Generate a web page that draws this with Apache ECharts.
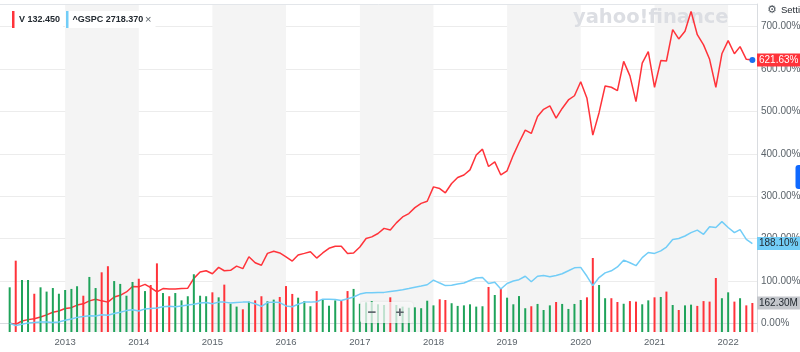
<!DOCTYPE html>
<html>
<head>
<meta charset="UTF-8"/>
<title>V vs ^GSPC</title>
<style>
  * { margin: 0; padding: 0; }
  body { background: #fff; }
  #chart { width: 800px; height: 352px; }
</style>
<script src="https://cdn.jsdelivr.net/npm/echarts@6/dist/echarts.min.js"></script>
</head>
<body>
<div id="chart"></div>
<script>
  // monthly points, first one is April 2012
  const startYear = 2012
  const startMonth = 3
  const yearTicks = [2013, 2014, 2015, 2016, 2017, 2018, 2019, 2020, 2021, 2022]
  const pctTicks = [0, 100, 200, 300, 400, 500, 600, 700]

  // V, % change since start
  const vPct = [
    0, -2.4, 5.5, 8.7, 11, 15, 20, 26, 29, 35, 37, 43, 46, 53, 57, 53, 50, 62, 66, 74,
    87, 86, 92, 84, 74, 82, 81, 81, 82, 83, 106, 121, 124, 117, 132, 124, 125, 135, 129, 157,
    143, 137, 165, 170, 166, 157, 147, 161, 165, 169, 154, 166, 177, 182, 182, 165, 166, 180, 200, 204,
    212, 224, 220, 237, 251, 259, 273, 283, 288, 322, 318, 308, 330, 344, 350, 362, 397, 411, 370, 381,
    350, 360, 397, 426, 456, 448, 488, 505, 513, 484, 507, 527, 537, 570, 531, 444, 497, 560, 557, 549,
    618, 584, 523, 614, 641, 557, 620, 619, 693, 671, 689, 736, 681, 657, 623, 557, 636, 667, 636, 653,
    623, 621.63
  ]

  // ^GSPC, % change since start
  const spPct = [
    0, -5, -2.4, 1, 2, 3, 3, 2, 3, 7, 10, 14, 16, 18, 17, 20, 19, 23, 26, 30,
    32, 29, 34, 35, 36, 39, 40, 39, 41, 43, 45, 48, 49, 46, 50, 50, 48, 49, 50, 50,
    46, 40, 49, 50, 49, 41, 39, 45, 50, 50, 51, 57, 57, 56, 54, 58, 62, 69, 72, 72,
    73, 73, 75, 77, 79, 82, 85, 88, 91, 102, 95, 89, 90, 93, 95, 101, 107, 108, 94, 97,
    81, 94, 100, 103, 111, 98, 111, 113, 110, 113, 117, 124, 131, 132, 111, 89, 108, 119, 124, 133,
    149, 143, 136, 155, 167, 165, 171, 180, 198, 200, 206, 214, 220, 210, 228, 226, 240, 226, 214, 221,
    198, 188.10
  ]

  // V volume, millions
  const volume = [
    250, 399, 291, 291, 214, 250, 226, 246, 214, 235, 241, 256, 203, 308, 246, 334, 368, 285, 269, 203,
    280, 298, 229, 263, 384, 218, 200, 218, 177, 200, 323, 203, 200, 222, 194, 265, 158, 142, 127, 170,
    177, 200, 172, 181, 196, 257, 213, 192, 173, 144, 229, 179, 147, 177, 175, 229, 241, 158, 166, 173,
    155, 151, 194, 151, 142, 136, 138, 133, 175, 149, 183, 179, 161, 146, 149, 155, 142, 144, 252, 207,
    241, 192, 155, 201, 133, 144, 157, 123, 149, 168, 157, 129, 157, 179, 194, 414, 263, 189, 189, 168,
    158, 173, 170, 155, 177, 194, 196, 226, 151, 123, 149, 153, 146, 173, 170, 302, 189, 222, 170, 189,
    149, 162.30
  ]

  // 1 = up month (green bar), 0 = down month (red bar)
  const volumeUp = [
    1, 0, 1, 1, 0, 1, 1, 1, 1, 1, 1, 1, 0, 1, 1, 0, 0, 1, 1, 1,
    1, 0, 1, 0, 0, 1, 0, 1, 1, 1, 1, 1, 1, 0, 1, 0, 1, 1, 0, 1,
    0, 0, 1, 1, 0, 0, 0, 1, 1, 1, 0, 1, 1, 1, 0, 0, 1, 1, 1, 1,
    1, 1, 0, 1, 1, 1, 1, 1, 1, 1, 0, 0, 1, 1, 1, 1, 1, 1, 0, 1,
    0, 1, 1, 1, 1, 0, 1, 1, 1, 0, 1, 1, 1, 1, 0, 0, 1, 1, 0, 0,
    1, 0, 0, 1, 1, 0, 1, 0, 1, 0, 1, 1, 0, 0, 0, 0, 1, 1, 0, 1,
    0, 0
  ]

  const RED = '#ff333a'
  const GREEN = '#1fa35a'
  const BLUE = '#72cdf7'
  const LABEL = '#5b636a'
  const FONT = 'Liberation Sans'

  const months = vPct.map((v, i) => Date.UTC(startYear, startMonth + i, 1))
  const lastDate = months[months.length - 1]
  const yearStarts = yearTicks.map(y => Date.UTC(y, 0, 1))

  // price tag on the right axis, drawn as an invisible mark line
  function endTag(value, text, fg, bg) {
    return {
      silent: true,
      symbol: 'none',
      lineStyle: {color: 'rgba(0,0,0,0)', width: 0},
      label: {
        position: 'end', distance: 0,
        formatter: text,
        color: fg, backgroundColor: bg,
        fontSize: 10, fontFamily: FONT, padding: [1, 2], lineHeight: 11
      },
      data: [{yAxis: value}]
    }
  }

  const chart = echarts.init(document.getElementById('chart'))

  chart.setOption({
    animation: false,
    grid: {left: 0, right: 43, top: 4, bottom: 20, outerBoundsMode: 'none', containLabel: false},
    xAxis: {
      // timestamps on a value axis so the year ticks can be set by hand
      type: 'value',
      min: Date.UTC(2012, 1, 13),
      max: Date.UTC(2022, 4, 24),
      axisLine: {lineStyle: {color: '#d9dce0'}},
      axisTick: {
        show: true, length: 4, lineStyle: {color: '#cfd3d8'},
        customValues: yearStarts
      },
      axisLabel: {
        customValues: yearStarts,
        formatter: v => String(new Date(v).getUTCFullYear()),
        color: LABEL, fontSize: 9.5, fontFamily: FONT, margin: 5
      },
      splitLine: {show: false},
      splitArea: {show: true, areaStyle: {color: ['#f4f4f4', 'rgba(255,255,255,0)']}}
    },
    yAxis: [
      {
        type: 'value',
        position: 'right',
        min: -20.5,
        max: 753.5,
        axisLine: {show: true, lineStyle: {color: '#d9dce0'}},
        axisTick: {show: false, customValues: pctTicks},
        axisLabel: {
          customValues: pctTicks,
          formatter: v => v.toFixed(2) + '%',
          color: LABEL, fontSize: 10, fontFamily: FONT, margin: 4
        },
        splitLine: {show: true, lineStyle: {color: '#ececec'}}
      },
      {
        type: 'value',
        show: false,
        min: 0,
        max: 1835,
        splitLine: {show: false}
      }
    ],
    series: [
      {
        name: 'V',
        type: 'line',
        data: months.map((d, i) => [d, vPct[i]]),
        showSymbol: false,
        lineStyle: {color: RED, width: 1.5},
        itemStyle: {color: RED},
        z: 2,
        markPoint: {
          symbol: 'circle',
          symbolSize: 6,
          itemStyle: {color: '#1b6ff0'},
          label: {show: false},
          data: [{coord: [lastDate, vPct[vPct.length - 1]]}]
        },
        markLine: endTag(vPct[vPct.length - 1], p => p.value.toFixed(2) + '%', '#fff', RED)
      },
      {
        name: 'Volume',
        type: 'bar',
        yAxisIndex: 1,
        barWidth: 2,
        z: 3,
        data: months.map((d, i) => ({
          value: [d, volume[i]],
          itemStyle: {color: volumeUp[i] ? GREEN : RED}
        })),
        markLine: endTag(volume[volume.length - 1], p => p.value.toFixed(2) + 'M', '#232a31', '#c3c6cb')
      },
      {
        name: '^GSPC',
        type: 'line',
        data: months.map((d, i) => [d, spPct[i]]),
        showSymbol: false,
        lineStyle: {color: BLUE, width: 1.5},
        itemStyle: {color: BLUE},
        z: 4,
        markLine: endTag(spPct[spPct.length - 1], p => p.value.toFixed(2) + '%', '#232a31', BLUE)
      }
    ],
    graphic: [
      // top border
      {type: 'line', shape: {x1: 0, y1: 4.5, x2: 757, y2: 4.5}, style: {stroke: '#e3e6ea', lineWidth: 1}, z: 10},
      // watermark
      {
        type: 'text', left: 573, top: 8, z: 1, silent: true,
        style: {text: 'yahoo!finance', fill: '#dcdee3', fontSize: 19.5, fontWeight: 'bold', fontFamily: 'DejaVu Sans'}
      },
      // legend chips
      {type: 'rect', shape: {x: 12, y: 11, width: 51, height: 17}, style: {fill: '#fff'}, z: 20},
      {type: 'rect', shape: {x: 12, y: 11, width: 2.5, height: 17}, style: {fill: RED}, z: 21},
      {
        type: 'text', x: 19, y: 19.5, z: 21,
        style: {text: 'V 132.450', fill: '#232a31', fontSize: 9, fontWeight: 'bold', fontFamily: FONT, verticalAlign: 'middle'}
      },
      {type: 'rect', shape: {x: 65.5, y: 11, width: 90, height: 17}, style: {fill: '#fff'}, z: 20},
      {type: 'rect', shape: {x: 66, y: 11, width: 2.5, height: 17}, style: {fill: BLUE}, z: 21},
      {
        type: 'text', x: 72.5, y: 19.5, z: 21,
        style: {text: '^GSPC 2718.370', fill: '#232a31', fontSize: 9, fontWeight: 'bold', fontFamily: FONT, verticalAlign: 'middle'}
      },
      {
        type: 'text', x: 145, y: 19.5, z: 21,
        style: {text: '×', fill: '#5b636a', fontSize: 11, fontFamily: FONT, verticalAlign: 'middle'}
      },
      // settings
      {
        type: 'text', x: 767, y: 10, z: 21,
        style: {text: '⚙', fill: '#464e56', fontSize: 11, fontFamily: 'DejaVu Sans', verticalAlign: 'middle'}
      },
      {
        type: 'text', x: 781, y: 10, z: 21,
        style: {text: 'Settings', fill: '#232a31', fontSize: 9.5, fontFamily: FONT, verticalAlign: 'middle'}
      },
      // side tab
      {type: 'rect', shape: {x: 795.5, y: 165, width: 12, height: 24, r: 3}, style: {fill: '#0f69ff'}, z: 21},
      // zoom control
      {
        type: 'rect', shape: {x: 360, y: 302, width: 53, height: 21, r: 3},
        style: {fill: 'rgba(255,255,255,0.72)', shadowBlur: 3, shadowColor: 'rgba(0,0,0,0.12)'}, z: 30
      },
      {
        type: 'text', x: 372, y: 313, z: 31,
        style: {text: '−', fill: '#5b636a', fontSize: 15, fontWeight: 'bold', fontFamily: FONT, align: 'center', verticalAlign: 'middle'}
      },
      {
        type: 'text', x: 400, y: 313, z: 31,
        style: {text: '+', fill: '#5b636a', fontSize: 15, fontWeight: 'bold', fontFamily: FONT, align: 'center', verticalAlign: 'middle'}
      }
    ]
  })
</script>
</body>
</html>
